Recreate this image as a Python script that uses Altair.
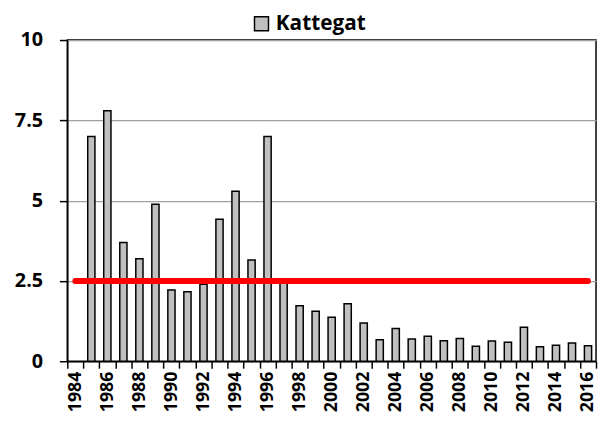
import altair as alt
import pandas as pd

years = [str(y) for y in range(1984, 2017)]
values = [None, 7.0, 7.8, 3.7, 3.19, 4.89, 2.22, 2.16, 2.4, 4.42, 5.29, 3.15, 7.0,
          2.45, 1.73, 1.56, 1.37, 1.79, 1.19, 0.67, 1.02, 0.69, 0.78, 0.64, 0.71,
          0.47, 0.63, 0.59, 1.06, 0.45, 0.5, 0.57, 0.48]
series_name = "Kattegat"
threshold = 2.5
y_ticks = [0, 2.5, 5, 7.5, 10]

df = pd.DataFrame({"year": years, "value": values, "series": series_name})
ref = pd.DataFrame({"start": [years[0]], "end": [years[-1]], "level": [threshold]})

FONT = "Open Sans"

x_enc = alt.X("year:N", scale=alt.Scale(domain=years, paddingInner=0, paddingOuter=0),
              axis=alt.Axis(title=None, labelAngle=-90, labelFont=FONT, labelFontSize=18,
                            labelFontWeight="bold", labelColor="black",
                            labelExpr="parseInt(datum.value) % 2 == 0 ? datum.label : ''",
                            tickBand="extent", tickSize=7, tickColor="black", tickWidth=1.5,
                            domainColor="black", domainWidth=1.5, labelPadding=3,
                            labelOverlap=False, grid=False))

bars = alt.Chart(df).mark_bar(width=alt.RelativeBandSize(0.45), stroke="black",
                               strokeWidth=1.5).encode(
    x=x_enc,
    y=alt.Y("value:Q", scale=alt.Scale(domain=[0, 10], nice=False),
            axis=alt.Axis(title=None, values=y_ticks, format=".2~f", labelFont=FONT,
                          labelFontSize=20, labelFontWeight="bold", labelColor="black",
                          tickSize=8, tickColor="black", tickWidth=1.5, domainColor="black",
                          domainWidth=1.5, labelPadding=17, gridColor="#a0a0a0",
                          gridWidth=1.2)),
    color=alt.Color("series:N", scale=alt.Scale(range=["#c0c0c0"]),
                    legend=alt.Legend(title=None, orient="none", legendX=186, legendY=-27,
                                      symbolType="square", symbolSize=200,
                                      symbolStrokeColor="black", symbolStrokeWidth=1.5,
                                      labelFont=FONT, labelFontSize=21,
                                      labelFontWeight="bold", labelColor="black")),
)

line = alt.Chart(ref).mark_rule(color="#ff0000", strokeWidth=6, strokeCap="round").encode(
    x=alt.X("start:N", scale=alt.Scale(domain=years)),
    x2="end:N",
    y=alt.Y("level:Q"),
)

chart = alt.layer(bars, line).properties(
    width=535, height=325,
    autosize=alt.AutoSizeParams(type="none"),
    padding={"left": 60, "top": 30, "right": 2, "bottom": 55},
).configure_view(stroke="black", strokeWidth=1.5)

chart.save("out.html", embed_options={"renderer": "svg", "actions": False})
